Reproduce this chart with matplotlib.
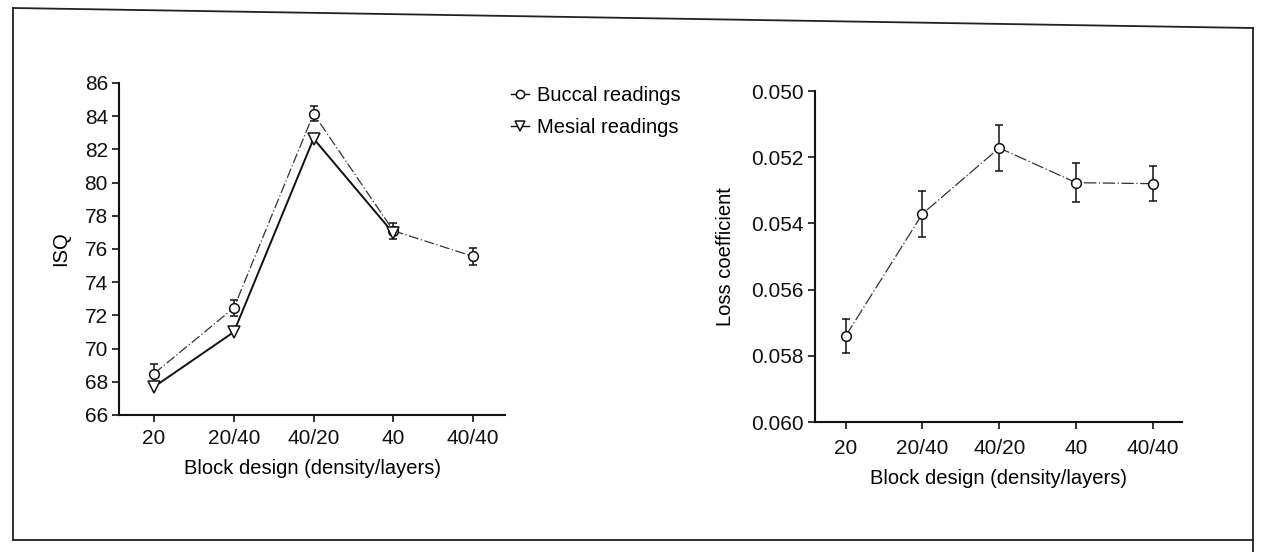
import matplotlib
matplotlib.use("Agg")
import matplotlib.pyplot as plt
from matplotlib.lines import Line2D

plt.rcParams['font.family'] = ['Liberation Sans', 'DejaVu Sans']

categories = ["20", "20/40", "40/20", "40", "40/40"]
buccal = [68.5, 72.45, 84.15, 77.1, 75.55]
buccal_err = [0.6, 0.5, 0.45, 0.47, 0.5]
mesial = [67.7, 71.0, 82.65, 76.95]
isq_ticks = list(range(66, 87, 2))

loss = [0.05740, 0.05371, 0.05172, 0.05277, 0.05280]
loss_err = [0.00052, 0.00070, 0.00070, 0.00059, 0.00053]
loss_ticks = [0.050, 0.052, 0.054, 0.056, 0.058, 0.060]

W, H = 1261, 552
fig = plt.figure(figsize=(W / 100, H / 100), dpi=100)

def ax_rect(x0, y0, x1, y1):
    return [x0 / W, (H - y1) / H, (x1 - x0) / W, (y1 - y0) / H]

# frame around figure
fc = '#222'
fig.add_artist(Line2D([13 / W, 1253 / W], [1 - 8 / H, 1 - 28 / H], color=fc, lw=1.3, transform=fig.transFigure))
fig.add_artist(Line2D([13 / W, 13 / W], [1 - 8 / H, 1 - 540 / H], color=fc, lw=1.3, transform=fig.transFigure))
fig.add_artist(Line2D([13 / W, 1253 / W], [1 - 540 / H, 1 - 540 / H], color=fc, lw=1.3, transform=fig.transFigure))
fig.add_artist(Line2D([1253 / W, 1253 / W], [1 - 28 / H, 0], color=fc, lw=1.3, transform=fig.transFigure))

xs = list(range(len(categories)))
TICK_FS = 15
LAB_FS = 14.5

# Left panel
ax1 = fig.add_axes(ax_rect(119, 83, 505, 415))
ax1.errorbar(xs, buccal, yerr=buccal_err, fmt='o', ls=(0, (8, 2, 1, 2)), color='#333', lw=0.9,
             mfc='white', mec='#111', ms=7, mew=1.1, capsize=3, elinewidth=1.1, ecolor='#111', zorder=3)
ax1.plot(xs[:len(mesial)], mesial, marker='v', ls='-', color='#111', lw=1.4,
         mfc='white', mec='#111', ms=8, mew=1.1, zorder=4)
ax1.set_xlim(-0.44, 4.4)
ax1.set_ylim(66, 86)
ax1.set_yticks(isq_ticks)
ax1.set_xticks(xs)
ax1.set_xticklabels(categories)
ax1.set_ylabel("ISQ", fontsize=LAB_FS, labelpad=10)
ax1.set_xlabel("Block design (density/layers)", fontsize=LAB_FS, labelpad=8)

# Right panel
ax2 = fig.add_axes(ax_rect(815, 91, 1182, 422))
ax2.errorbar(xs, loss, yerr=loss_err, fmt='o', ls=(0, (10, 2, 1, 2)), color='#333', lw=0.9,
             mfc='white', mec='#111', ms=7, mew=1.1, capsize=3, elinewidth=1.1, ecolor='#111', zorder=3)
ax2.set_xlim(-0.40, 4.38)
ax2.set_ylim(0.060, 0.050)
ax2.set_yticks(loss_ticks)
ax2.set_yticklabels([f"{v:.3f}" for v in loss_ticks])
ax2.set_xticks(xs)
ax2.set_xticklabels(categories)
ax2.set_ylabel("Loss coefficient", fontsize=LAB_FS, labelpad=12)
ax2.set_xlabel("Block design (density/layers)", fontsize=LAB_FS, labelpad=8)

for ax in (ax1, ax2):
    for s in ('top', 'right'):
        ax.spines[s].set_visible(False)
    for s in ('left', 'bottom'):
        ax.spines[s].set_linewidth(1.5)
        ax.spines[s].set_color('#111')
    ax.tick_params(direction='out', length=5, width=1.2, labelsize=TICK_FS, colors='#111')
    ax.tick_params(axis='y', pad=3)
ax1.tick_params(axis='x', pad=5)
ax2.tick_params(axis='x', pad=7)

h_b = Line2D([], [], ls='-', color='#111', lw=1.0, marker='o', mfc='white', mec='#111', ms=6, mew=1.1)
h_m = Line2D([], [], ls='-', color='#111', lw=1.0, marker='v', mfc='white', mec='#111', ms=7, mew=1.1)
fig.legend(handles=[h_b, h_m], labels=['Buccal readings', 'Mesial readings'],
           loc='upper left', bbox_to_anchor=(511 / W, 1 - 86 / H), frameon=False, fontsize=14.5,
           handlelength=0.9, handletextpad=0.4, labelspacing=0.65, borderaxespad=0, borderpad=0)

fig.savefig("out.png", dpi=100, facecolor='white')
